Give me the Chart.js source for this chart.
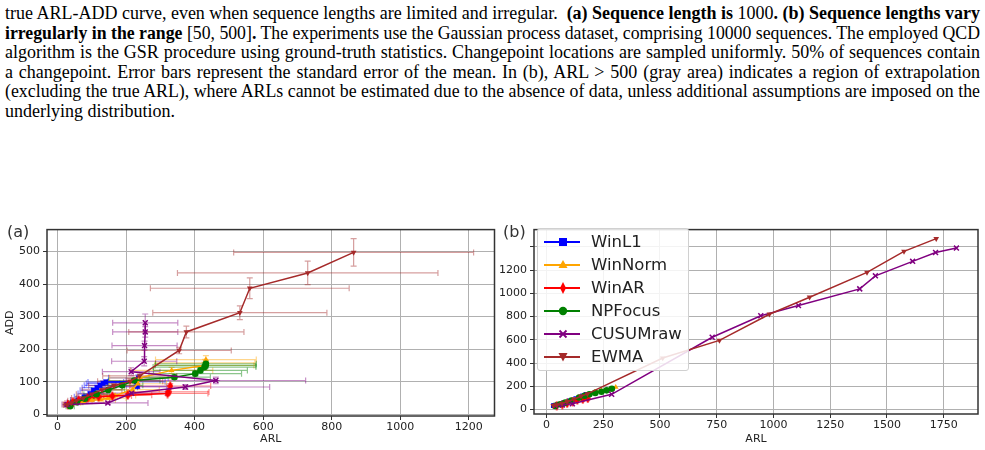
<!doctype html>
<html lang="en">
<head>
<meta charset="utf-8">
<title>ARL-ADD curves</title>
<script src="https://cdn.jsdelivr.net/npm/chart.js"></script>
<style>
  html, body { margin: 0; padding: 0; background: #fff; }
  body { width: 985px; height: 450px; position: relative; overflow: hidden; }
  .caption { position: absolute; left: 5px; top: 4px; width: 975px;
             font-family: "Liberation Serif", "Times New Roman", serif; font-size: 18px; line-height: 19.6px; color: #000; }
  .caption div { text-align: justify; text-align-last: justify; white-space: nowrap; transform-origin: 0 0; }
  .caption div.last { text-align-last: left; }
  .panel { position: absolute; top: 220px; height: 230px; }
  #panelA { left: 0; width: 500px; }
  #panelB { left: 496px; width: 489px; }
  .tag { position: absolute; top: 223px; font-family: "DejaVu Sans", sans-serif; font-size: 16px; line-height: 18px; color: #333; background: #fff; padding: 0 1px; }
  #legend { position: absolute; left: 537px; top: 228px; width: 150px; height: 141px; border: 1px solid #d0d0d0; border-radius: 3px;
            background: rgba(255,255,255,0.85); font-family: "DejaVu Sans", sans-serif; font-size: 16.5px; color: #222; }
  #legend .row { position: absolute; left: 0; height: 20px; }
  #legend svg { position: absolute; left: 5px; top: 2px; }
  #legend span { position: absolute; left: 53px; top: 0; line-height: 20px; white-space: nowrap; }
</style>
</head>
<body>
<div class="caption">
  <div>true ARL-ADD curve, even when sequence lengths are limited and irregular. &nbsp;<b>(a) Sequence length is</b> 1000<b>. (b) Sequence lengths vary</b></div>
  <div><b>irregularly in the range</b> [50, 500]<b>.</b> The experiments use the Gaussian process dataset, comprising 10000 sequences. The employed QCD</div>
  <div>algorithm is the GSR procedure using ground-truth statistics. Changepoint locations are sampled uniformly. 50% of sequences contain</div>
  <div>a changepoint. Error bars represent the standard error of the mean. In (b), ARL &gt; 500 (gray area) indicates a region of extrapolation</div>
  <div>(excluding the true ARL), where ARLs cannot be estimated due to the absence of data, unless additional assumptions are imposed on the</div>
  <div class="last">underlying distribution.</div>
</div>

<div class="panel" id="panelA"><canvas id="chartA" width="500" height="230"></canvas></div>
<div class="panel" id="panelB"><canvas id="chartB" width="489" height="230"></canvas></div>
<div class="tag" style="left:6px">(a)</div>
<div class="tag" style="left:502px">(b)</div>
<div id="legend"></div>

<script>
// tick labels
const arlTicksA = [0, 200, 400, 600, 800, 1000, 1200];
const addTicksA = [0, 100, 200, 300, 400, 500];
const arlTicksB = [0, 250, 500, 750, 1000, 1250, 1500, 1750];
const addTicksB = [0, 200, 400, 600, 800, 1000, 1200, 1400];

const seriesNames = ['WinL1', 'WinNorm', 'WinAR', 'NPFocus', 'CUSUMraw', 'EWMA'];
const seriesColors = ['#0000ff', '#ffa500', '#ff0000', '#008000', '#800080', '#a52a2a'];

// (a) sequence length 1000 -- ARL, ADD and their standard errors
const winL1ArlA    = [30, 45, 60, 78, 95, 105, 115, 124, 133, 141, 230, 233, 236];
const winL1AddA    = [29, 36, 44, 54, 64, 74, 82, 89, 95, 99, 100, 86, 112];
const winL1ArlErrA = [11, 17, 22, 29, 35, 39, 43, 46, 49, 52, 84, 86, 87];
const winL1AddErrA = [2, 3, 3, 4, 5, 6, 7, 7, 8, 8, 8, 7, 9];

const winNormArlA    = [30, 50, 75, 100, 125, 148, 168, 219, 234, 240, 333, 428, 431, 433];
const winNormAddA    = [29, 35, 40, 44, 45, 50, 58, 76, 94, 112, 135, 150, 158, 168];
const winNormArlErrA = [11, 18, 26, 35, 44, 52, 60, 78, 84, 88, 120, 145, 145, 147];
const winNormAddErrA = [2, 3, 3, 4, 4, 5, 5, 6, 7, 8, 9, 10, 11, 12];

const winARArlA    = [30, 45, 62, 88, 120, 160, 205, 321, 324, 329];
const winARAddA    = [30, 37, 44, 50, 54, 56, 59, 64, 69, 87];
const winARArlErrA = [11, 16, 22, 31, 42, 56, 70, 118, 118, 118];
const winARAddErrA = [2, 3, 3, 4, 4, 5, 5, 6, 6, 7];

const npFocusArlA    = [37, 56, 80, 114, 148, 189, 224, 341, 402, 417, 429, 432, 433];
const npFocusAddA    = [25, 37, 48, 62, 75, 89, 104, 114, 125, 135, 145, 150, 155];
const npFocusArlErrA = [12, 18, 26, 37, 48, 60, 75, 105, 135, 137, 150, 147, 147];
const npFocusAddErrA = [2, 3, 3, 4, 5, 5, 6, 7, 7, 8, 8, 9, 9];

const cusumArlA    = [28, 147, 216, 373, 462, 215, 253, 254, 256, 256];
const cusumAddA    = [30, 35, 65, 84, 104, 131, 163, 211, 253, 281];
const cusumArlErrA = [15, 117, 100, 246, 262, 84, 95, 95, 95, 95];
const cusumAddErrA = [3, 4, 6, 7, 10, 12, 14, 14, 16, 27];

const ewmaArlA    = [28, 40, 55, 75, 100, 130, 165, 212, 240, 355, 376, 532, 561, 730, 864];
const ewmaAddA    = [30, 35, 42, 50, 62, 75, 88, 102, 118, 196, 253, 312, 387, 434, 497];
const ewmaArlErrA = [12, 18, 25, 34, 45, 58, 74, 95, 108, 152, 168, 254, 290, 380, 350];
const ewmaAddErrA = [2, 3, 3, 4, 5, 6, 7, 8, 9, 10, 18, 21, 32, 36, 42];

// (b) sequence lengths vary in [50, 500]
const winL1ArlB   = [30, 48, 76, 100, 129, 159, 174];
const winL1AddB   = [33, 42, 59, 75, 95, 117, 131];
const winNormArlB = [38, 60, 91, 125, 152, 185, 212, 242, 279, 305];
const winNormAddB = [33, 45, 59, 82, 104, 128, 148, 163, 172, 192];
const winARArlB   = [45, 70, 91, 115, 136, 160, 182];
const winARAddB   = [33, 42, 53, 66, 81, 88, 95];
const npFocusArlB = [38, 60, 83, 110, 144, 168, 189, 215, 242, 265, 288];
const npFocusAddB = [31, 45, 59, 78, 103, 118, 131, 143, 153, 165, 179];
const cusumArlB   = [40, 70, 114, 287, 730, 944, 1110, 1380, 1449, 1613, 1714, 1806];
const cusumAddB   = [33, 40, 50, 131, 622, 807, 895, 1038, 1150, 1275, 1351, 1389];
const ewmaArlB    = [30, 45, 68, 91, 121, 152, 180, 512, 762, 982, 1159, 1412, 1575, 1717];
const ewmaAddB    = [33, 39, 53, 67, 89, 114, 135, 443, 595, 820, 966, 1180, 1361, 1470];

// caption lines: justify when they fit, squeeze slightly when they do not
document.querySelectorAll('.caption div').forEach(d => {
  const r = document.createRange();
  r.selectNodeContents(d);
  const w = r.getBoundingClientRect().width;
  if (w <= 975) {
    d.style.whiteSpace = 'normal';
  } else {
    d.style.width = w + 'px';
    d.style.textAlignLast = 'left';
    d.style.transform = `scaleX(${975 / w})`;
  }
});

function thinDiamond(color, w, h) {
  const c = document.createElement('canvas');
  c.width = w; c.height = h;
  const g = c.getContext('2d');
  g.fillStyle = color;
  g.beginPath();
  g.moveTo(w / 2, 0); g.lineTo(w, h / 2); g.lineTo(w / 2, h); g.lineTo(0, h / 2);
  g.closePath(); g.fill();
  return c;
}

const pointStyles = ['rect', 'triangle', thinDiamond('#ff0000', 6, 10), 'circle', 'crossRot', 'triangle'];
const pointRotations = [0, 0, 0, 0, 0, 180];

function alpha(hex, a) {
  const n = parseInt(hex.slice(1), 16);
  return `rgba(${n >> 16},${(n >> 8) & 255},${n & 255},${a})`;
}

function series(i, arl, add, arlErr, addErr) {
  return {
    label: seriesNames[i],
    data: arl.map((v, k) => ({ x: v, y: add[k] })),
    xErr: arlErr, yErr: addErr,
    showLine: true,
    borderColor: seriesColors[i],
    backgroundColor: seriesColors[i],
    borderWidth: 1.5,
    pointStyle: pointStyles[i],
    pointRotation: pointRotations[i],
    pointRadius: i === 4 ? 3.5 : 3.3,
    pointBorderWidth: i === 4 ? 1.5 : 0,
    order: 5 - i
  };
}

// error bars (x and y) drawn under the series through the chart scales
const errorBars = {
  id: 'errorBars',
  beforeDatasetsDraw(chart) {
    const { ctx, chartArea: a, scales: { x, y } } = chart;
    ctx.save();
    ctx.beginPath(); ctx.rect(a.left, a.top, a.right - a.left, a.bottom - a.top); ctx.clip();
    chart.data.datasets.forEach(ds => {
      if (!ds.xErr) return;
      ctx.strokeStyle = alpha(ds.borderColor, 0.45);
      ctx.lineWidth = 1.2;
      ds.data.forEach((p, k) => {
        const px = x.getPixelForValue(p.x), py = y.getPixelForValue(p.y);
        const x0 = x.getPixelForValue(p.x - ds.xErr[k]), x1 = x.getPixelForValue(p.x + ds.xErr[k]);
        const y0 = y.getPixelForValue(p.y - ds.yErr[k]), y1 = y.getPixelForValue(p.y + ds.yErr[k]);
        ctx.beginPath();
        ctx.moveTo(x0, py); ctx.lineTo(x1, py);
        ctx.moveTo(x0, py - 3); ctx.lineTo(x0, py + 3);
        ctx.moveTo(x1, py - 3); ctx.lineTo(x1, py + 3);
        ctx.moveTo(px, y0); ctx.lineTo(px, y1);
        ctx.moveTo(px - 3, y0); ctx.lineTo(px + 3, y0);
        ctx.moveTo(px - 3, y1); ctx.lineTo(px + 3, y1);
        ctx.stroke();
      });
    });
    ctx.restore();
  }
};

// all four spines
const frame = {
  id: 'frame',
  afterDraw(chart) {
    const { ctx, chartArea: a } = chart;
    ctx.save();
    ctx.strokeStyle = '#333';
    ctx.lineWidth = 1.5;
    ctx.strokeRect(a.left, a.top, a.right - a.left, a.bottom - a.top);
    ctx.restore();
  }
};

const tickFont = { family: 'DejaVu Sans', size: 11 };

function axis(tickValues, min, max, size, title, pad, hidden) {
  const horiz = title === 'ARL';
  return {
    type: 'linear',
    min, max,
    afterBuildTicks: s => { s.ticks = tickValues.map(v => ({ value: v })); },
    afterFit: s => { if (horiz) s.height = size; else s.width = size; },
    ticks: {
      font: tickFont, color: '#222', padding: pad, maxRotation: 0,
      callback: v => (hidden && hidden.includes(v)) ? '' : String(v)
    },
    grid: { color: '#b0b0b0', lineWidth: 1, tickColor: '#333', tickLength: 4 },
    border: { display: false },
    title: { display: title !== 'none', text: title, font: tickFont, color: '#222', padding: { top: 4, bottom: 4 } }
  };
}

function baseOptions(xAxis, yAxis, padding) {
  return {
    responsive: false,
    animation: false,
    devicePixelRatio: 1,
    events: [],
    layout: { padding },
    plugins: { legend: { display: false }, tooltip: { enabled: false } },
    scales: { x: xAxis, y: yAxis }
  };
}

new Chart(document.getElementById('chartA'), {
  type: 'scatter',
  data: {
    datasets: [
      series(0, winL1ArlA, winL1AddA, winL1ArlErrA, winL1AddErrA),
      series(1, winNormArlA, winNormAddA, winNormArlErrA, winNormAddErrA),
      series(2, winARArlA, winARAddA, winARArlErrA, winARAddErrA),
      series(3, npFocusArlA, npFocusAddA, npFocusArlErrA, npFocusAddErrA),
      series(4, cusumArlA, cusumAddA, cusumArlErrA, cusumAddErrA),
      series(5, ewmaArlA, ewmaAddA, ewmaArlErrA, ewmaAddErrA)
    ]
  },
  options: baseOptions(
    axis(arlTicksA, -30.6, 1275, 34, 'ARL', 1),
    axis(addTicksA, -5, 567, 47, 'ADD', 3),
    { top: 5, right: 1, left: 0, bottom: 0 }
  ),
  plugins: [errorBars, frame]
});

new Chart(document.getElementById('chartB'), {
  type: 'scatter',
  data: {
    datasets: [
      series(0, winL1ArlB, winL1AddB),
      series(1, winNormArlB, winNormAddB),
      series(2, winARArlB, winARAddB),
      series(3, npFocusArlB, npFocusAddB),
      series(4, cusumArlB, cusumAddB),
      series(5, ewmaArlB, ewmaAddB)
    ]
  },
  options: baseOptions(
    axis(arlTicksB, -55, 1901, 36, 'ARL', 1),
    axis(addTicksB, -38.5, 1548, 38, 'none', 3, [1400]),
    { top: 5, right: 7, left: 0, bottom: 0 }
  ),
  plugins: [frame]
});

// legend for (b), drawn as html so the labels stay text
const markerSvg = [
  c => `<rect x="16" y="4" width="8" height="8" fill="${c}"/>`,
  c => `<polygon points="20,3 24.5,11 15.5,11" fill="${c}"/>`,
  c => `<polygon points="20,2 23,8 20,14 17,8" fill="${c}"/>`,
  c => `<circle cx="20" cy="8" r="4.2" fill="${c}"/>`,
  c => `<path d="M16.5,4.5 L23.5,11.5 M23.5,4.5 L16.5,11.5" stroke="${c}" stroke-width="1.8"/>`,
  c => `<polygon points="15.5,4 24.5,4 20,12.5" fill="${c}"/>`
];
const legend = document.getElementById('legend');
seriesNames.forEach((name, i) => {
  const row = document.createElement('div');
  row.className = 'row';
  row.style.top = (3 + i * 22.9) + 'px';
  row.innerHTML = `<svg width="40" height="16"><line x1="1" y1="8" x2="37" y2="8" stroke="${seriesColors[i]}" stroke-width="1.8"/>${markerSvg[i](seriesColors[i])}</svg><span>${name}</span>`;
  legend.appendChild(row);
});
</script>
</body>
</html>
